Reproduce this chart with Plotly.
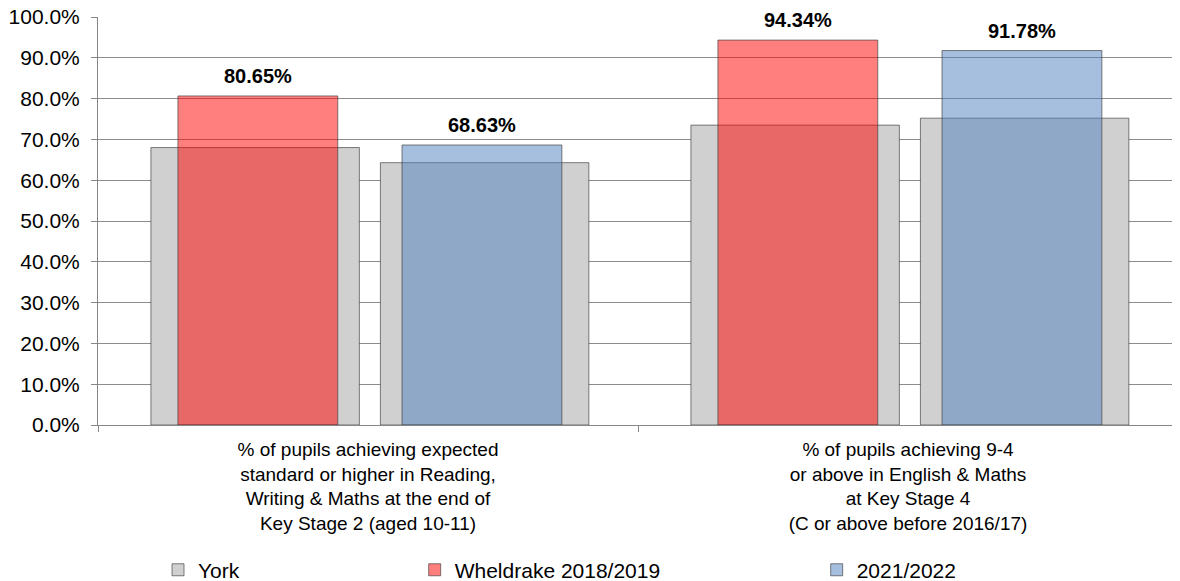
import plotly.graph_objects as go

categories = [
    "% of pupils achieving expected<br>standard or higher in Reading,<br>Writing & Maths at the end of<br>Key Stage 2 (aged 10-11)",
    "% of pupils achieving 9-4<br>or above in English & Maths<br>at Key Stage 4<br>(C or above before 2016/17)",
]
york_a = [68.0, 73.5]      # York, compared with Wheldrake 2018/2019
york_b = [64.3, 75.2]      # York, compared with 2021/2022
wheldrake_1819 = [80.65, 94.34]
wheldrake_2122 = [68.63, 91.78]
yticks = [0, 10, 20, 30, 40, 50, 60, 70, 80, 90, 100]

FONT = "Liberation Sans, Arial, sans-serif"
GRAY = "rgb(208,208,208)"
EDGE = "rgba(60,60,60,0.65)"
RED = "rgba(255,0,0,0.5)"
BLUE = "rgba(79,127,189,0.5)"

GW, GA, GB = 0.386, -0.402, 0.023   # gray width / offsets
CW, CA, CB = 0.296, -0.352, 0.063   # coloured width / offsets

fig = go.Figure()
fig.add_trace(go.Bar(x=categories, y=york_a, name="York", width=GW, offset=GA,
                     marker=dict(color=GRAY, line=dict(color=EDGE, width=1)),
                     legend="legend", legendgroup="york"))
fig.add_trace(go.Bar(x=categories, y=york_b, name="York", width=GW, offset=GB,
                     marker=dict(color=GRAY, line=dict(color=EDGE, width=1)),
                     showlegend=False, legendgroup="york"))
fig.add_trace(go.Bar(x=categories, y=wheldrake_1819, name="Wheldrake 2018/2019", width=CW, offset=CA,
                     marker=dict(color=RED, line=dict(color=EDGE, width=1)),
                     legend="legend2"))
fig.add_trace(go.Bar(x=categories, y=wheldrake_2122, name="2021/2022", width=CW, offset=CB,
                     marker=dict(color=BLUE, line=dict(color=EDGE, width=1)),
                     legend="legend3"))

annotations = []
for i, v in enumerate(wheldrake_1819):
    annotations.append(dict(x=i + CA + CW / 2, y=v, xref="x", yref="y", text=f"<b>{v:.2f}%</b>",
                            showarrow=False, yanchor="bottom", yshift=7,
                            font=dict(family=FONT, size=20, color="black")))
for i, v in enumerate(wheldrake_2122):
    annotations.append(dict(x=i + CB + CW / 2, y=v, xref="x", yref="y", text=f"<b>{v:.2f}%</b>",
                            showarrow=False, yanchor="bottom", yshift=7,
                            font=dict(family=FONT, size=20, color="black")))

leg_common = dict(orientation="h", yanchor="middle", y=0.019, yref="container", xref="container",
                  xanchor="left", font=dict(family=FONT, size=21, color="black"),
                  bgcolor="rgba(0,0,0,0)", itemwidth=30, tracegroupgap=0)

fig.update_layout(
    barmode="overlay",
    width=1172, height=573,
    margin=dict(l=90, r=2, t=9, b=156),
    plot_bgcolor="white", paper_bgcolor="white",
    font=dict(family=FONT, size=18, color="black"),
    annotations=annotations,
    legend=dict(leg_common, x=0.128),
    legend2=dict(leg_common, x=0.347),
    legend3=dict(leg_common, x=0.690),
    xaxis=dict(type="category", range=[-0.5, 1.5], showline=True, linecolor="#868686", linewidth=1,
               ticks="outside", tickson="boundaries", ticklen=6, tickcolor="#868686",
               showgrid=False, automargin=False, ticklabelstandoff=7,
               tickfont=dict(family=FONT, size=19, color="black")),
    yaxis=dict(range=[0, 100], tickvals=yticks, ticktext=[f"{t:.1f}%" for t in yticks],
               showline=True, linecolor="#868686", linewidth=1,
               ticks="outside", ticklen=6, tickcolor="#868686", automargin=False,
               ticklabelstandoff=7, ticklabeloverflow="allow",
               showgrid=True, gridcolor="#8c8c8c", gridwidth=1, zeroline=False,
               tickfont=dict(family=FONT, size=21, color="black")),
)

fig.write_html("out.html")
